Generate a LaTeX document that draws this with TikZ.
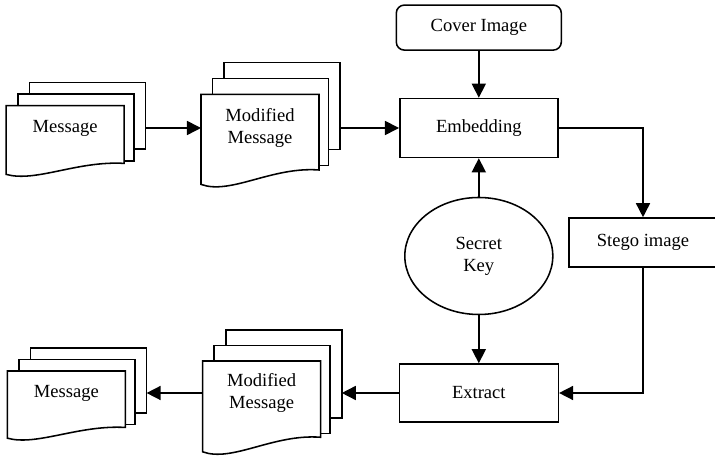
\documentclass[tikz,border=0pt]{standalone}
\usepackage{fontspec}
\setmainfont{Liberation Serif}
\usetikzlibrary{arrows.meta, positioning, shapes.geometric, calc}

\tikzset{
  every node/.style={font=\fontsize{13.2}{15.6}\selectfont},
  page/.style={draw, fill=white, line width=1.1pt},
  doctext/.style={align=center, inner sep=1pt},
  box/.style={draw, line width=1.1pt, align=center},
  arrow/.style={line width=1.1pt, -{Triangle[length=10pt, width=10pt]}},
}

% #1 name, #2 centre x, #3 text y, #4 width, #5 height,
% #6 top above text, #7 shift of the back pages, #8 text
\newcommand{\docstack}[8]{%
  \foreach \k in {2,1}
    \draw[page] ({#2-#4/2+\k*0.29},{#3+#6+\k*#7}) rectangle ++({#4-0.05},{-0.97*#5});
  \draw[page] ({#2-#4/2},{#3+#6}) -- ++(#4,0) -- ++(0,{-0.84*#5})
    .. controls ({#2+0.1*#4},{#3+#6-0.8*#5}) and ({#2-0.25*#4},{#3+#6-1.12*#5})
    .. ({#2-#4/2},{#3+#6-#5}) -- cycle;
  \node[doctext] (#1) at (#2,#3) {#8};
  \coordinate (#1-l) at ({#2-#4/2},#3);
  \coordinate (#1-r) at ({#2+#4/2+0.53},#3);
}

\begin{document}
\begin{tikzpicture}
    \useasboundingbox (0,0) rectangle (17.875,11.5);

    % message stacks
    \docstack{msgin}{1.63}{8.3}{2.95}{1.72}{0.56}{0.29}{Message}
    \docstack{modin}{6.5}{8.3}{2.95}{2.25}{0.84}{0.4}{Modified\\Message}
    \docstack{msgout}{1.66}{1.675}{2.95}{1.68}{0.55}{0.29}{Message}
    \docstack{modout}{6.54}{1.675}{2.95}{2.27}{0.8}{0.39}{Modified\\Message}

    \node[box, rounded corners=0.2cm, minimum width=4.125cm, minimum height=1.125cm] (cover) at (11.97,10.81) {Cover Image};
    \node[box, minimum width=3.95cm, minimum height=1.475cm] (embed) at (11.97,8.3) {Embedding};
    \node[box, ellipse, minimum width=3.7cm, minimum height=2.925cm] (key) at (11.97,5.1) {Secret\\Key};
    \node[box, minimum width=3.7cm, minimum height=1.225cm] (stego) at (16.075,5.4375) {Stego image};
    \node[box, minimum width=3.975cm, minimum height=1.45cm] (extract) at (11.97,1.675) {Extract};

    \draw[arrow] (msgin-r) -- (modin-l);
    \draw[arrow] (modin-r) -- (embed.west);
    \draw[arrow] (cover.south) -- (embed.north);
    \draw[arrow] (key.north) -- (embed.south);
    \draw[arrow] (embed.east) -| (stego.north);
    \draw[arrow] (stego.south) |- (extract.east);
    \draw[arrow] (key.south) -- (extract.north);
    \draw[arrow] (extract.west) -- (modout-r);
    \draw[arrow] (modout-l) -- (msgout-r);

\end{tikzpicture}
\end{document}
